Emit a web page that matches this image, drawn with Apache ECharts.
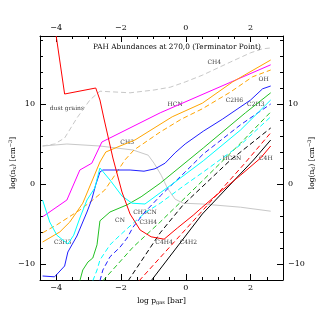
<!DOCTYPE html>
<html><head><meta charset="utf-8">
<script src="https://cdn.jsdelivr.net/npm/echarts@6/dist/echarts.min.js"></script>
<style>html,body{margin:0;padding:0;background:#fff}#c{width:319px;height:319px}</style>
</head><body><div id="c"></div>
<script>
// ---- data (x = log p_gas [bar], y = log n [cm^-3]) ----
const xTickLabels = [-4, -2, 0, 2];
const yTickLabels = [-10, 0, 10];

const CH4 = [[-4.42,4.75],[-4.05,5.0],[-3.74,5.75],[-3.36,8.25],[-2.96,10.5],[-2.65,11.6],[-1.72,11.4],[-0.98,11.75],[-0.48,12.1],[-0.02,12.75],[0.51,13.6],[1.38,15.25],[2.0,16.4],[2.37,16.9],[2.62,17.0]];
const greySolid = [[-4.42,4.75],[-3.67,5.0],[-2.65,4.75],[-1.63,4.25],[-1.16,3.6],[-0.98,2.6],[-0.76,1.1],[-0.57,-0.5],[-0.33,-1.9],[-0.08,-2.4],[0.51,-2.5],[1.69,-2.9],[2.62,-3.4]];
const dustGrains = [[-4.0,18.5],[-3.74,11.25],[-2.78,12.0],[-2.65,10.5],[-2.53,8.25],[-2.25,3.25],[-1.97,-1.0],[-1.72,-3.75],[-1.41,-5.75],[-1.07,-6.6],[-0.67,-6.9],[-0.26,-5.5],[0.23,-3.9],[0.48,-3.0],[0.91,-1.5],[1.69,1.1],[2.31,3.25],[2.62,4.75]];
const redDashed = [[-1.44,-12.1],[0.48,-3.5],[1.78,2.4],[2.62,6.4]];
const blackDashed = [[-1.78,-12.1],[-0.79,-6.1],[-0.08,-2.6],[1.38,3.0],[2.62,7.0]];
const blackSolid = [[-1.07,-12.1],[0.51,-3.75],[2.09,3.0],[2.62,5.5]];
const HCN = [[-4.42,-4.1],[-3.67,-2.0],[-3.27,1.75],[-2.90,2.6],[-2.59,5.25],[-0.79,8.9],[2.62,14.9]];
const CH3 = [[-4.42,-7.25],[-3.89,-6.0],[-3.58,-4.75],[-3.18,-2.4],[-2.65,2.75],[-2.47,4.0],[-2.03,4.75],[-1.57,5.5],[-0.42,8.4],[0.51,10.1],[1.44,12.75],[2.62,15.5]];
const OH = [[-4.42,-6.1],[-3.98,-5.1],[-3.27,-3.25],[-2.87,-2.0],[-2.50,-0.75],[-2.19,1.1],[-1.88,3.0],[-1.60,4.25],[-0.79,6.5],[-0.14,8.1],[0.51,9.4],[1.38,11.5],[2.06,13.4],[2.62,14.25]];
const C2H6 = [[-4.42,-11.5],[-4.05,-11.6],[-3.74,-10.25],[-3.64,-8.5],[-3.36,-6.5],[-3.18,-4.75],[-3.05,-3.5],[-2.90,-1.9],[-2.78,-0.1],[-2.65,1.5],[-2.56,1.75],[-1.72,1.75],[-1.29,1.6],[-0.95,1.9],[-0.64,2.6],[-0.33,3.9],[-0.02,5.0],[0.54,6.6],[1.13,8.1],[2.0,10.5],[2.37,11.9],[2.62,12.25]];
const CN = [[-3.27,-12.1],[-3.18,-10.75],[-3.02,-9.75],[-2.87,-9.25],[-2.74,-7.6],[-2.65,-4.6],[-2.34,-3.5],[-1.81,-2.6],[-1.38,-1.6],[-0.79,0.1],[0.54,4.5],[1.84,8.9],[2.62,11.4]];
const C3H3 = [[-4.42,-2.0],[-4.20,-4.75],[-3.98,-6.4],[-3.64,-7.5],[-3.46,-6.4],[-3.27,-4.25],[-3.05,-2.0],[-2.81,-0.5],[-2.65,2.0],[-2.34,0.5],[-1.97,-1.5],[-1.66,-2.4],[-1.26,-2.5],[-0.79,-1.1],[-0.33,0.25],[0.54,2.9],[1.69,6.75],[2.62,10.5]];
const cyanDashed = [[-2.87,-12.1],[-2.74,-10.75],[-2.65,-9.5],[-2.34,-7.6],[-2.03,-6.4],[-1.72,-5.25],[-1.26,-3.6],[-0.79,-2.4],[-0.02,-0.1],[0.54,1.5],[1.69,4.9],[2.62,8.4]];
const blueDashed = [[-2.65,-12.1],[-2.56,-10.75],[-2.34,-9.1],[-2.03,-7.9],[-1.81,-6.75],[-1.63,-5.4],[-1.26,-3.5],[-0.79,-1.5],[-0.02,1.5],[0.54,3.75],[1.69,7.4],[2.62,10.0]];
const greenDashed = [[-2.56,-12.1],[-1.63,-7.9],[-0.79,-4.75],[0.54,0.5],[1.69,5.1],[2.62,9.0]];

const labelNames = ['CH4','OH','HCN','C2H6','C2H3','CH3','dust grains','CN','CH3CN','C3H4','C3H3','C4H4','C4H2','HC3N','C4H'];
const labelX = [0.88, 2.40, -0.33, 1.50, 2.16, -1.81, -3.67, -2.03, -1.26, -1.16, -3.80, -0.67, 0.08, 1.42, 2.47];
const labelY = [15.25, 13.1, 10.0, 10.5, 10.0, 5.25, 9.4, -4.5, -3.5, -4.75, -7.25, -7.25, -7.25, 3.25, 3.25];
const titleText = 'PAH Abundances at 270,0 (Terminator Point)';

// ---- styling ----
const FONT = 'DejaVu Serif';
function fitSize(text, targetWidth) {
  const ctx = document.createElement('canvas').getContext('2d');
  ctx.font = '20px "' + FONT + '"';
  return 20 * targetWidth / ctx.measureText(text).width;
}
const TITLE_FS = fitSize(titleText, 168);
const FS = fitSize('C4H4', 17.5);

const lines = [
  {d: CH4, c: '#c8c8c8', dash: true},
  {d: greySolid, c: '#c8c8c8', dash: false},
  {d: HCN, c: '#ff00ff', dash: false},
  {d: CH3, c: '#ffa500', dash: false},
  {d: OH, c: '#ffa500', dash: true},
  {d: C2H6, c: '#2020ff', dash: false},
  {d: blueDashed, c: '#2020ff', dash: true},
  {d: CN, c: '#22c022', dash: false},
  {d: greenDashed, c: '#22c022', dash: true},
  {d: C3H3, c: '#00ffff', dash: false},
  {d: cyanDashed, c: '#00ffff', dash: true},
  {d: blackDashed, c: '#000000', dash: true},
  {d: blackSolid, c: '#000000', dash: false},
  {d: redDashed, c: '#ff0000', dash: true},
  {d: dustGrains, c: '#ff0000', dash: false}
];

const minus = v => (v < 0 ? '\u2212' + Math.abs(v) : String(v));
const lblStyle = {fontFamily: FONT, fontSize: 8, color: '#000'};

function xAx(pos, major) {
  return {
    type: 'value', position: pos, min: -4.5, max: 3, interval: 0.5,
    axisLine: {show: !major, onZero: false, lineStyle: {color: '#000', width: 1}},
    axisTick: major ? {show: true, inside: true, length: 6, customValues: xTickLabels, lineStyle: {color: '#000'}}
                    : {show: true, inside: true, length: 3, lineStyle: {color: '#000'}},
    axisLabel: major ? Object.assign({show: true, customValues: xTickLabels, formatter: minus, margin: 4}, lblStyle) : {show: false},
    splitLine: {show: false}
  };
}
function yAx(pos, major) {
  return {
    type: 'value', position: pos, min: -12, max: 18.5, interval: 2,
    axisLine: {show: !major, onZero: false, lineStyle: {color: '#000', width: 1}},
    axisTick: major ? {show: true, inside: true, length: 6, customValues: yTickLabels, lineStyle: {color: '#000'}}
                    : {show: true, inside: true, length: 3, lineStyle: {color: '#000'}},
    axisLabel: major ? Object.assign({show: true, customValues: yTickLabels, formatter: minus, margin: 5}, lblStyle) : {show: false},
    splitLine: {show: false}
  };
}

const xAxes = [xAx('bottom', false), xAx('bottom', true), xAx('top', false), xAx('top', true)];
xAxes[1].name = '{a|log p}{s|gas}{a| [bar]}';
xAxes[1].nameLocation = 'middle';
xAxes[1].nameGap = 15;
xAxes[1].nameTextStyle = {rich: {a: {fontFamily: FONT, fontSize: 7.5, color: '#000'}, s: {fontFamily: FONT, fontSize: 5, color: '#000', padding: [4, 0, 0, 0]}}};

const yAxes = [yAx('left', false), yAx('left', true), yAx('right', false), yAx('right', true)];
const yRich = {a: {fontFamily: FONT, fontSize: 7.5, fill: '#000'}, s: {fontFamily: FONT, fontSize: 5, fill: '#000', padding: [4, 0, 0, 0]}, p: {fontFamily: FONT, fontSize: 5, fill: '#000', padding: [0, 0, 4, 0]}};

const series = lines.map(l => ({
  type: 'line', data: l.d, xAxisIndex: 0, yAxisIndex: 0, showSymbol: false, symbol: 'none',
  clip: true, silent: true, animation: false,
  lineStyle: {color: l.c, width: 1, type: l.dash ? [5, 3] : 'solid'}
}));
series.push({
  type: 'scatter', xAxisIndex: 0, yAxisIndex: 0, symbolSize: 1, silent: true, animation: false,
  itemStyle: {color: 'rgba(0,0,0,0)'},
  data: labelNames.map((n, i) => ({name: n, value: [labelX[i], labelY[i]]})),
  label: {show: true, position: 'inside', formatter: p => p.name, fontFamily: FONT, fontSize: FS, color: '#000'}
});

const chart = echarts.init(document.getElementById('c'), null, {renderer: 'canvas'});
chart.setOption({
  backgroundColor: '#fff',
  animation: false,
  grid: {left: 40, right: 36, top: 36, bottom: 39, containLabel: false, outerBoundsMode: 'none'},
  title: {text: titleText, left: 88, top: 39,
          textStyle: {fontFamily: FONT, fontSize: TITLE_FS, fontWeight: 'normal', color: '#000'}},
  xAxis: xAxes,
  yAxis: yAxes,
  graphic: [
    {type: 'text', x: 13, y: 163, rotation: Math.PI / 2, silent: true,
     style: {text: '{a|log(n}{s|x}{a|) [cm}{p|\u22123}{a|]}', rich: yRich, align: 'center', verticalAlign: 'middle', fill: '#000'}},
    {type: 'text', x: 312, y: 163, rotation: Math.PI / 2, silent: true,
     style: {text: '{a|log(n}{s|d}{a|) [cm}{p|\u22123}{a|]}', rich: yRich, align: 'center', verticalAlign: 'middle', fill: '#000'}}
  ],
  series: series
});
</script></body></html>
